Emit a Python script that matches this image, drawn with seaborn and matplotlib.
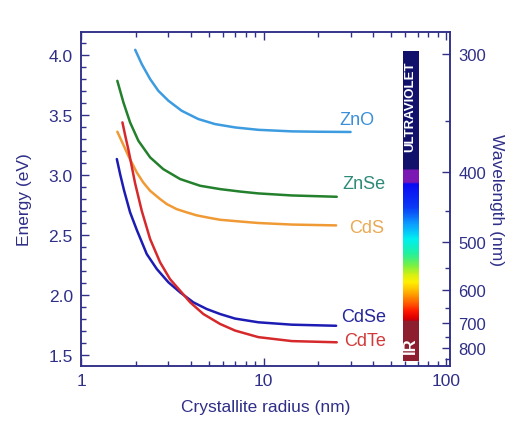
import numpy as np
import pandas as pd
import matplotlib
matplotlib.use("Agg")
import matplotlib.pyplot as plt
from matplotlib.colors import LinearSegmentedColormap, Normalize
from matplotlib.ticker import FixedLocator, NullFormatter
from matplotlib import font_manager
import seaborn as sns

# Band-gap energy versus crystallite radius for five semiconductors
zno_radius = [1.98, 2.15, 2.39, 2.65, 3.01, 3.56, 4.39, 5.42, 6.98, 9.37, 14.3, 20.0, 30.0]
zno_energy = [4.044, 3.925, 3.80, 3.702, 3.619, 3.535, 3.466, 3.424, 3.396, 3.376, 3.363, 3.36, 3.358]

znse_radius = [1.58, 1.706, 1.856, 2.06, 2.39, 2.82, 3.49, 4.49, 5.78, 7.5, 9.37, 14.3, 25.2]
znse_energy = [3.785, 3.605, 3.438, 3.285, 3.146, 3.048, 2.965, 2.909, 2.881, 2.86, 2.845, 2.828, 2.817]

cds_radius = [1.58, 1.70, 1.82, 2.02, 2.19, 2.39, 2.71, 2.95, 3.34, 3.79, 4.3, 5.09, 5.78, 7.5, 9.37, 14.3, 25.0]
cds_energy = [3.36, 3.255, 3.155, 3.02, 2.937, 2.867, 2.798, 2.756, 2.714, 2.687, 2.662, 2.64, 2.625, 2.61, 2.598, 2.585, 2.578]

cdse_radius = [1.57, 1.64, 1.72, 1.856, 2.02, 2.29, 2.60, 3.01, 3.49, 4.12, 4.88, 5.78, 6.98, 9.37, 14.3, 25.0]
cdse_energy = [3.132, 3.00, 2.87, 2.687, 2.54, 2.339, 2.214, 2.103, 2.019, 1.936, 1.88, 1.838, 1.80, 1.769, 1.749, 1.74]

cdte_radius = [1.685, 1.75, 1.82, 1.977, 2.15, 2.39, 2.71, 3.07, 3.49, 3.96, 4.68, 5.78, 6.98, 9.37, 14.3, 25.2]
cdte_energy = [3.438, 3.32, 3.205, 2.93, 2.70, 2.464, 2.27, 2.13, 2.033, 1.936, 1.838, 1.755, 1.70, 1.645, 1.612, 1.602]

materials = ["ZnO", "ZnSe", "CdS", "CdSe", "CdTe"]
line_colors = ["#3d9be0", "#23802c", "#f09a35", "#1c1cb4", "#d6292c"]
label_colors = ["#3a8fd8", "#2e8a78", "#e9aa55", "#26269c", "#d23a3a"]
label_radius = [26.0, 27.0, 29.5, 26.5, 27.5]
label_energy = [3.46, 2.93, 2.56, 1.82, 1.62]

# Right-hand wavelength scale
wavelength_major = [300, 400, 500, 600, 700, 800]
wavelength_minor = [350, 450, 550, 650, 750, 850]

# Spectrum strip colour stops (nm)
spectrum_nm = [298, 396, 398, 412, 414, 445, 470, 494, 520, 545, 565, 582, 620, 660, 680, 690, 692, 861]
spectrum_colors = ["#11116c", "#11116c", "#7b17b3", "#7b17b3", "#0a0af2", "#0a3af5", "#0aa0ff",
                   "#00f0f0", "#20f0a0", "#7af040", "#d8f010", "#fff000", "#ff8a00", "#ff1800",
                   "#e00000", "#c00010", "#8c1e30", "#8c1e30"]


def wl_to_energy(wl):
    return 1181.0 / np.asarray(wl, dtype=float) + 0.074


def energy_to_wl(e):
    return 1181.0 / (np.asarray(e, dtype=float) - 0.074)


sns.set_style("white")
plt.rcParams["font.family"] = ["Liberation Sans", "DejaVu Sans"]
navy = "#2f2f88"

installed = {f.name for f in font_manager.fontManager.ttflist}
band_font = ["Liberation Sans Narrow", "Liberation Sans"] if "Liberation Sans Narrow" in installed \
    else ["Liberation Sans", "DejaVu Sans"]

frames = []
for name, r, e in zip(materials,
                      [zno_radius, znse_radius, cds_radius, cdse_radius, cdte_radius],
                      [zno_energy, znse_energy, cds_energy, cdse_energy, cdte_energy]):
    frames.append(pd.DataFrame({"material": name, "radius": r, "energy": e}))
df = pd.concat(frames, ignore_index=True)

fig = plt.figure(figsize=(5.1, 4.27), dpi=100)
ax = fig.add_axes([0.159, 0.1405, 0.723, 0.782])

sns.lineplot(data=df, x="radius", y="energy", hue="material", hue_order=materials,
             palette=line_colors, sort=False, estimator=None, linewidth=1.8,
             legend=False, ax=ax)
for line in ax.get_lines():
    line.set_solid_joinstyle("round")
    line.set_solid_capstyle("round")

ax.set_xscale("log")
ax.set_xlim(1, 105)
ax.set_ylim(1.404, 4.192)

for name, x, y, c in zip(materials, label_radius, label_energy, label_colors):
    ax.text(x, y, name, color=c, fontsize=13, ha="left", va="center")

# Spectrum strip
strip_x = [57.8, 71.1]
strip_e_top = wl_to_energy(spectrum_nm[0])
strip_e_bottom = wl_to_energy(spectrum_nm[-1])
e_edges = np.linspace(strip_e_bottom, strip_e_top, 601)
e_mid = 0.5 * (e_edges[:-1] + e_edges[1:])
wl_mid = energy_to_wl(e_mid)
lo, hi = spectrum_nm[0], spectrum_nm[-1]
stops = [((w - lo) / (hi - lo), c) for w, c in zip(spectrum_nm, spectrum_colors)]
spec_cmap = LinearSegmentedColormap.from_list("spectrum", stops, N=1024)
ax.pcolormesh(strip_x, e_edges, wl_mid.reshape(-1, 1), cmap=spec_cmap,
              norm=Normalize(lo, hi), shading="flat", zorder=3)
strip_center = np.sqrt(strip_x[0] * strip_x[1])
ax.text(strip_center, 3.575, "ULTRAVIOLET", color="white", fontsize=9.5, fontweight="bold",
        family=band_font, rotation=90, ha="center", va="center", zorder=4)
ax.text(strip_center, 1.585, "IR", color="white", fontsize=12, fontweight="bold",
        rotation=90, ha="center", va="center", zorder=4)

# Left / bottom axes styling
for sp in ax.spines.values():
    sp.set_color(navy)
    sp.set_linewidth(1.1)
ax.set_yticks([1.5, 2.0, 2.5, 3.0, 3.5, 4.0])
ax.yaxis.set_minor_locator(FixedLocator(np.round(np.arange(1.5, 4.15, 0.1), 2)))
ax.set_yticklabels(["1.5", "2.0", "2.5", "3.0", "3.5", "4.0"])
ax.set_xticks([1, 10, 100])
ax.set_xticklabels(["1", "10", "100"])
ax.xaxis.set_minor_formatter(NullFormatter())
ax.tick_params(axis="both", which="both", direction="in", colors=navy, labelcolor=navy,
               labelsize=12.5, width=1.0)
ax.tick_params(axis="x", which="both", top=True, bottom=True)
ax.tick_params(axis="y", which="both", left=True, right=False)
ax.tick_params(which="major", length=6)
ax.tick_params(which="minor", length=3.5)
ax.tick_params(axis="x", which="major", pad=5)
ax.tick_params(axis="y", which="major", pad=6)
ax.set_xlabel("Crystallite radius (nm)", color=navy, fontsize=12.5, labelpad=8)
ax.set_ylabel("Energy (eV)", color=navy, fontsize=12.5, labelpad=12)

# Right wavelength axis
ax2 = ax.twinx()
ax2.set_ylim(ax.get_ylim())
ax2.set_yticks(wl_to_energy(wavelength_major))
ax2.set_yticklabels([str(w) for w in wavelength_major])
ax2.yaxis.set_minor_locator(FixedLocator(wl_to_energy(wavelength_minor)))
ax2.yaxis.set_minor_formatter(NullFormatter())
ax2.tick_params(axis="y", which="both", direction="in", colors=navy, labelcolor=navy,
                labelsize=12, width=1.0)
ax2.tick_params(which="major", length=6, pad=6)
ax2.tick_params(which="minor", length=3.5)
for sp in ax2.spines.values():
    sp.set_color(navy)
    sp.set_linewidth(1.1)
ax2.set_ylabel("Wavelength (nm)", color=navy, fontsize=12.5, rotation=-90, labelpad=13)

fig.savefig("out.png", dpi=100, facecolor="white")
